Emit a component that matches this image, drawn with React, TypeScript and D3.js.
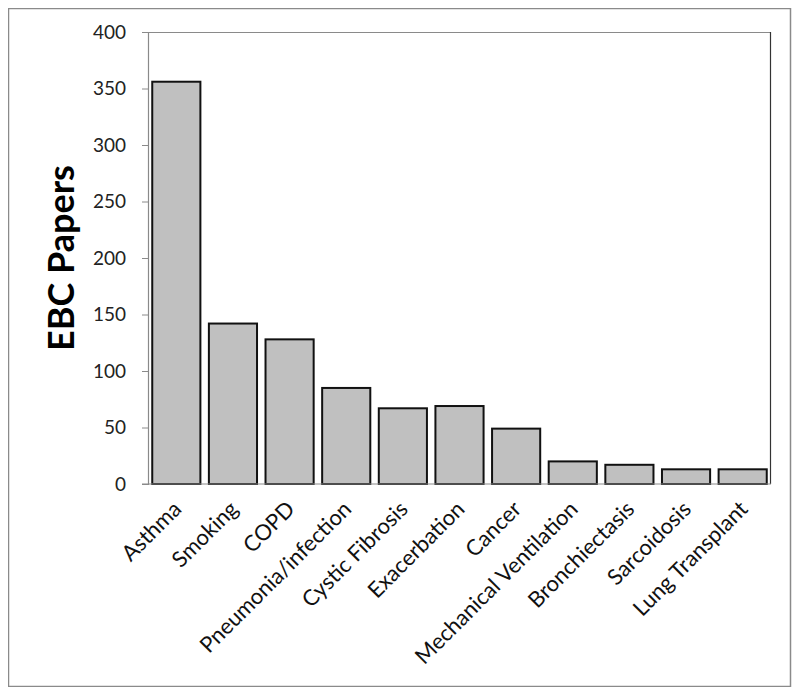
import React, { useEffect, useRef } from 'react';
import * as d3 from 'd3';

const categories = [
  'Asthma', 'Smoking', 'COPD', 'Pneumonia/infection', 'Cystic Fibrosis', 'Exacerbation',
  'Cancer', 'Mechanical Ventilation', 'Bronchiectasis', 'Sarcoidosis', 'Lung Transplant',
];
const papers = [356, 142, 128, 85, 67, 69, 49, 20, 17, 13, 13];
const yTicks = [0, 50, 100, 150, 200, 250, 300, 350, 400];
const yTitle = 'EBC Papers';

const width = 800;
const height = 695;
const margin = { top: 32, right: 29, bottom: 211, left: 148 };
const font = 'Lato, "Open Sans", sans-serif';

const App = () => {
  const svgRef = useRef<SVGSVGElement | null>(null);

  useEffect(() => {
    const svg = d3.select(svgRef.current);
    svg.selectAll('*').remove();

    const x = d3.scaleBand()
      .domain(categories)
      .range([margin.left, width - margin.right])
      .paddingInner(0.15)
      .paddingOuter(0.075);

    const y = d3.scaleLinear()
      .domain([0, 400])
      .range([height - margin.bottom, margin.top]);

    // outer chart border
    svg.append('rect')
      .attr('x', 8.5).attr('y', 8.5)
      .attr('width', 782).attr('height', 678)
      .attr('fill', 'white')
      .attr('stroke', '#8a8a8a')
      .attr('stroke-width', 1.5);

    // plot frame: top and right
    svg.append('line')
      .attr('x1', margin.left).attr('x2', width - margin.right)
      .attr('y1', margin.top + 0.5).attr('y2', margin.top + 0.5)
      .attr('stroke', '#8a8a8a').attr('stroke-width', 1.2);
    svg.append('line')
      .attr('x1', width - margin.right - 0.5).attr('x2', width - margin.right - 0.5)
      .attr('y1', margin.top).attr('y2', height - margin.bottom)
      .attr('stroke', '#333').attr('stroke-width', 1.2);

    // y axis
    const yAxis = svg.append('g')
      .attr('transform', `translate(${margin.left},0)`)
      .call(d3.axisLeft(y).tickValues(yTicks).tickSize(6).tickPadding(16));
    yAxis.select('.domain').attr('stroke', '#8a8a8a').attr('stroke-width', 1.2);
    yAxis.selectAll('.tick line').attr('stroke', '#8a8a8a');
    yAxis.selectAll('.tick text')
      .attr('font-family', font)
      .attr('font-size', 19)
      .attr('fill', '#222');

    // bars
    svg.selectAll('.bar')
      .data(categories)
      .enter()
      .append('rect')
      .attr('class', 'bar')
      .attr('x', (d) => x(d) as number)
      .attr('y', (d, i) => y(papers[i]))
      .attr('width', x.bandwidth())
      .attr('height', (d, i) => y(0) - y(papers[i]))
      .attr('fill', '#c0c0c0')
      .attr('stroke', '#111')
      .attr('stroke-width', 2);

    // x axis line
    svg.append('line')
      .attr('x1', margin.left - 6).attr('x2', width - margin.right)
      .attr('y1', y(0)).attr('y2', y(0))
      .attr('stroke', '#8a8a8a').attr('stroke-width', 1.2);

    // category labels
    svg.selectAll('.cat')
      .data(categories)
      .enter()
      .append('text')
      .attr('class', 'cat')
      .attr('transform', (d) => `translate(${(x(d) as number) + x.bandwidth() / 2 + 1},${y(0) + 21}) rotate(-45)`)
      .attr('text-anchor', 'end')
      .attr('dy', '0.35em')
      .attr('font-family', font)
      .attr('font-size', 22)
      .attr('fill', '#111')
      .text((d) => d);

    // y title
    svg.append('text')
      .attr('transform', `translate(74,${(margin.top + height - margin.bottom) / 2}) rotate(-90)`)
      .attr('text-anchor', 'middle')
      .attr('font-family', font)
      .attr('font-weight', 'bold')
      .attr('font-size', 36)
      .attr('fill', '#000')
      .text(yTitle);
  }, []);

  return <svg ref={svgRef} width={width} height={height} style={{ display: 'block', margin: -8 }} />;
};

export default App;
